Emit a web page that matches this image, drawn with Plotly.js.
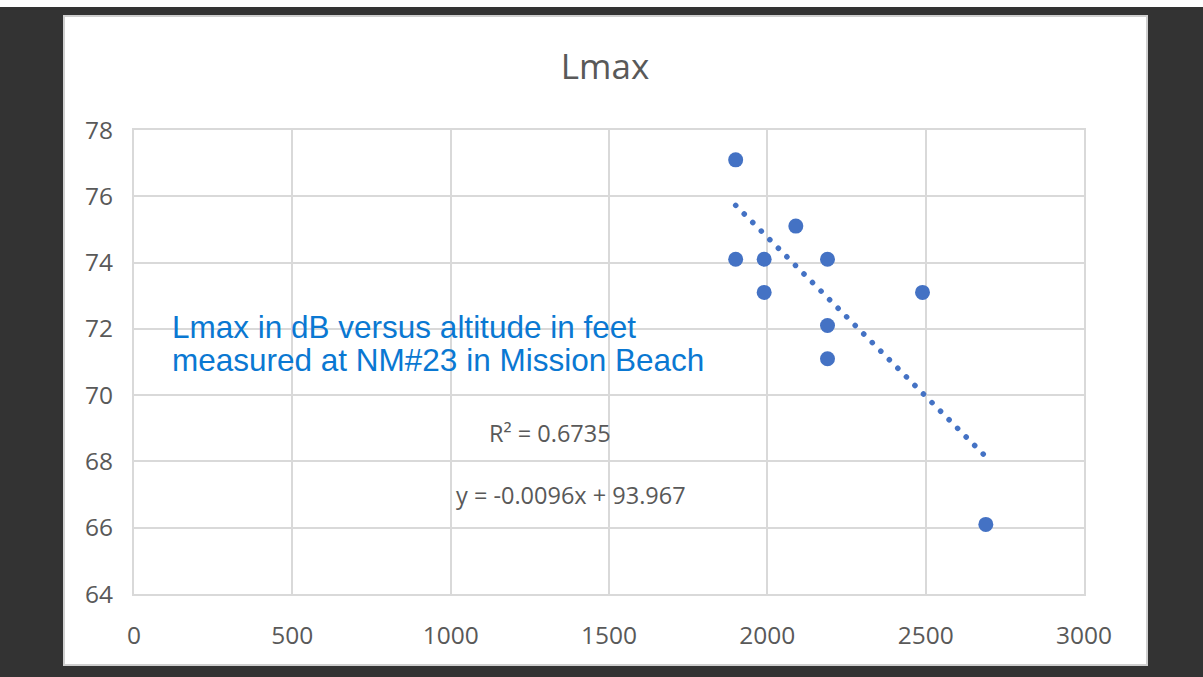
<!DOCTYPE html>
<html>
<head>
<meta charset="utf-8">
<script src="https://cdn.plot.ly/plotly-3.0.1.min.js"></script>
<style>
  html, body { margin: 0; padding: 0; background: #333333; }
  #chart { width: 1203px; height: 677px; }
  .js-line { stroke-linecap: round !important; }
</style>
</head>
<body>
<div id="chart"></div>
<script>
// Data
const altitudeFt = [1900, 1900, 1990, 1990, 2090, 2190, 2190, 2190, 2490, 2690];
const lmaxDb     = [77.1, 74.1, 74.1, 73.1, 75.1, 74.1, 72.1, 71.1, 73.1, 66.1];
// Trendline equation shown on the chart
const trendSlope = -0.0096;
const trendIntercept = 93.967;
const rSquared = "0.6735";
const xTicks = [0, 500, 1000, 1500, 2000, 2500, 3000];
const yTicks = [64, 66, 68, 70, 72, 74, 76, 78];

const W = 1203, H = 677;
const L = 134, R = 1084, T = 130, B = 594;
const px = v => (v - L) / (R - L);
const py = v => (B - v) / (B - T);

const xMin = Math.min(...altitudeFt), xMax = Math.max(...altitudeFt);
const trendX = [xMin, xMax];
const trendY = trendX.map(x => trendSlope * x + trendIntercept);

const gray = '#595959';
const gridC = '#d9d9d9';

const traces = [
  {
    x: trendX, y: trendY, mode: 'lines', type: 'scatter',
    line: { color: '#4472C4', width: 5.5, dash: '0.1px,12px' },
    hoverinfo: 'skip', showlegend: false
  },
  {
    x: altitudeFt, y: lmaxDb, mode: 'markers', type: 'scatter',
    marker: { color: '#4472C4', size: 15 },
    showlegend: false
  }
];

const layout = {
  width: W, height: H,
  paper_bgcolor: '#333333',
  plot_bgcolor: '#ffffff',
  margin: { l: L, r: W - R, t: T, b: H - B, pad: 0 },
  font: { family: '"Open Sans", sans-serif', color: gray },
  title: {
    text: 'Lmax', font: { size: 35, color: gray, family: '"Open Sans", sans-serif' },
    x: 605 / W, xanchor: 'center', xref: 'container',
    y: 1 - 67 / H, yanchor: 'middle', yref: 'container'
  },
  xaxis: {
    range: [0, 3000], tickvals: xTicks, ticktext: xTicks.map(String),
    showgrid: true, gridcolor: gridC, gridwidth: 2,
    showline: true, linecolor: gridC, linewidth: 2, mirror: true,
    zeroline: false,
    ticks: 'outside', ticklen: 19, tickcolor: 'rgba(0,0,0,0)',
    tickfont: { size: 24.5, color: gray }, fixedrange: true
  },
  yaxis: {
    range: [64, 78], tickvals: yTicks, ticktext: yTicks.map(String),
    showgrid: true, gridcolor: gridC, gridwidth: 2,
    showline: true, linecolor: gridC, linewidth: 2, mirror: true,
    zeroline: false,
    ticks: 'outside', ticklen: 14, tickcolor: 'rgba(0,0,0,0)',
    tickfont: { size: 24.5, color: gray }, fixedrange: true
  },
  shapes: [
    { type: 'rect', xref: 'paper', yref: 'paper', layer: 'below',
      x0: px(64), x1: px(1147), y0: py(665), y1: py(16),
      fillcolor: '#ffffff', line: { color: '#cfcfcf', width: 2 } },
    { type: 'rect', xref: 'paper', yref: 'paper', layer: 'below',
      x0: px(0), x1: px(W), y0: py(7), y1: py(0),
      fillcolor: '#ffffff', line: { width: 0 } }
  ],
  annotations: [
    { text: 'Lmax in dB versus altitude in feet', xref: 'paper', yref: 'paper',
      x: px(170), y: py(327), xanchor: 'left', yanchor: 'middle', showarrow: false,
      font: { family: '"Liberation Sans", Arial, sans-serif', size: 31.5, color: '#0a78d2' } },
    { text: 'measured at NM#23 in Mission Beach', xref: 'paper', yref: 'paper',
      x: px(170), y: py(360), xanchor: 'left', yanchor: 'middle', showarrow: false,
      font: { family: '"Liberation Sans", Arial, sans-serif', size: 31.5, color: '#0a78d2' } },
    { text: 'R² = ' + rSquared, xref: 'paper', yref: 'paper',
      x: px(487), y: py(433), xanchor: 'left', yanchor: 'middle', showarrow: false,
      font: { size: 23.5, color: gray } },
    { text: 'y = ' + trendSlope.toFixed(4) + 'x + ' + trendIntercept.toFixed(3), xref: 'paper', yref: 'paper',
      x: px(454), y: py(495), xanchor: 'left', yanchor: 'middle', showarrow: false,
      font: { size: 23.5, color: gray } }
  ]
};

Plotly.newPlot('chart', traces, layout, { displayModeBar: false, staticPlot: true });
</script>
</body>
</html>
